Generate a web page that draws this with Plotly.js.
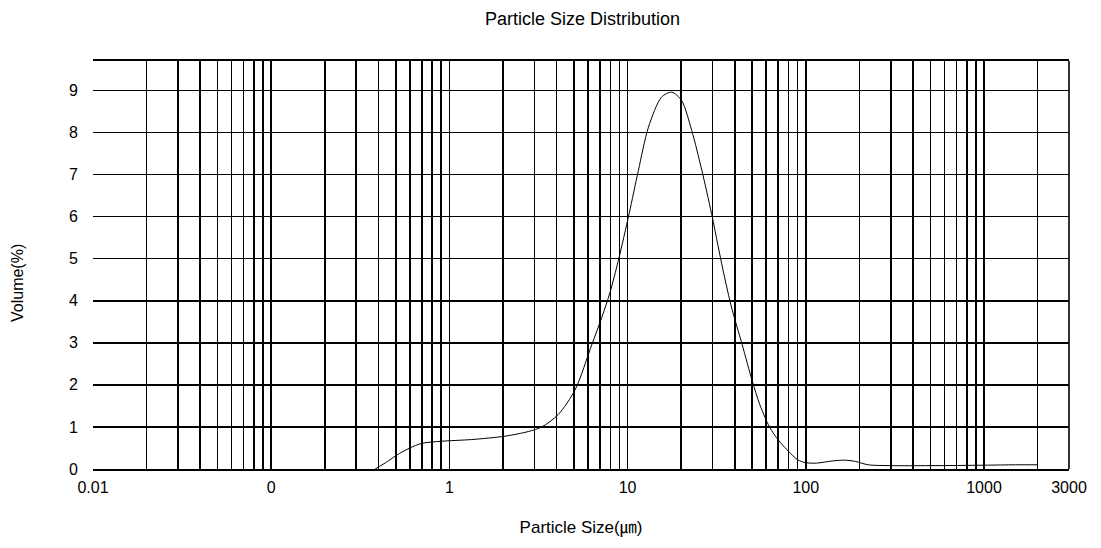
<!DOCTYPE html>
<html>
<head>
<meta charset="utf-8">
<script src="https://cdn.plot.ly/plotly-3.0.1.min.js"></script>
<style>html,body{margin:0;padding:0;background:#fff;}#chart{width:1101px;height:548px;}</style>
</head>
<body>
<div id="chart"></div>
<script>
// Particle size (µm) and volume (%)
var sizeUm = [0.383, 0.45, 0.506, 0.6, 0.70, 0.9, 1.33, 2.05, 2.77, 3.3, 4.09, 5.07, 6.29, 7.16, 7.97, 8.88, 10.2, 11.5, 13.1, 15.5, 17.7, 20.1, 22.9, 26.1, 29.6, 33.7, 38, 44, 50, 55, 61.7, 67, 73, 80, 90, 100, 115, 140, 165, 190, 224, 300, 500, 1000, 1500, 2000];
var volumePct = [0, 0.18, 0.33, 0.5, 0.61, 0.66, 0.70, 0.78, 0.89, 1.0, 1.3, 1.88, 2.95, 3.6, 4.2, 4.96, 6.07, 7.10, 8.13, 8.84, 8.96, 8.76, 8.05, 7.10, 6.07, 4.89, 3.9, 2.95, 2.1, 1.55, 1.05, 0.8, 0.6, 0.42, 0.22, 0.15, 0.14, 0.19, 0.21, 0.18, 0.1, 0.08, 0.08, 0.09, 0.1, 0.1];

// x axis grid values and labels
var xGridVals = [0.01, 0.02, 0.03, 0.04, 0.05, 0.06, 0.07, 0.08, 0.09,
  0.1, 0.2, 0.3, 0.4, 0.5, 0.6, 0.7, 0.8, 0.9,
  1, 2, 3, 4, 5, 6, 7, 8, 9,
  10, 20, 30, 40, 50, 60, 70, 80, 90,
  100, 200, 300, 400, 500, 600, 700, 800, 900,
  1000, 2000, 3000];
var xLabelMap = {0.01: "0.01", 0.1: "0", 1: "1", 10: "10", 100: "100", 1000: "1000", 3000: "3000"};
var xGridText = xGridVals.map(function (v) { return xLabelMap[v] !== undefined ? xLabelMap[v] : ""; });
var yTickVals = [0, 1, 2, 3, 4, 5, 6, 7, 8, 9];

var trace = {
  x: sizeUm,
  y: volumePct,
  type: "scatter",
  mode: "lines",
  line: {color: "#000", width: 1, shape: "spline", smoothing: 0.8},
  hoverinfo: "x+y"
};

var fontFam = "'Liberation Sans', Arial, 'Noto Sans CJK JP', sans-serif";

var layout = {
  width: 1101,
  height: 548,
  margin: {l: 93, r: 32, t: 61, b: 79},
  paper_bgcolor: "#fff",
  plot_bgcolor: "#fff",
  showlegend: false,
  font: {family: fontFam, color: "#000", size: 16},
  title: {
    text: "Particle Size Distribution",
    font: {family: fontFam, size: 18, color: "#000"},
    x: 0.529, xanchor: "center",
    y: 0.965, yanchor: "middle"
  },
  xaxis: {
    type: "log",
    range: [Math.log10(0.01), Math.log10(3000)],
    tickmode: "array",
    tickvals: xGridVals,
    ticktext: xGridText,
    ticks: "",
    ticklabelstandoff: 3,
    tickfont: {family: fontFam, size: 16, color: "#000"},
    showgrid: true,
    gridcolor: "#000",
    gridwidth: 1.6,
    showline: true,
    mirror: true,
    linecolor: "#000",
    linewidth: 1.6,
    zeroline: false,
    title: {
      text: "Particle Size(㎛)",
      font: {family: fontFam, size: 17, color: "#000"},
      standoff: 26
    }
  },
  yaxis: {
    range: [0, 9.7],
    tickmode: "array",
    tickvals: yTickVals,
    ticks: "",
    ticklabelstandoff: 14,
    tickfont: {family: fontFam, size: 16, color: "#000"},
    showgrid: true,
    gridcolor: "#000",
    gridwidth: 1.6,
    showline: false,
    zeroline: false
  },
  annotations: [{
    text: "Volume(%)",
    xref: "paper", yref: "paper",
    x: -0.0768, y: 0.456,
    xanchor: "center", yanchor: "middle",
    textangle: -90,
    showarrow: false,
    font: {family: fontFam, size: 16, color: "#000"}
  }],
  shapes: [{
    type: "line", xref: "paper", yref: "paper",
    x0: 1, x1: 1, y0: 0, y1: 1,
    line: {color: "#000", width: 1.6}
  }]
};

Plotly.newPlot("chart", [trace], layout, {displayModeBar: false, staticPlot: true});
</script>
</body>
</html>
